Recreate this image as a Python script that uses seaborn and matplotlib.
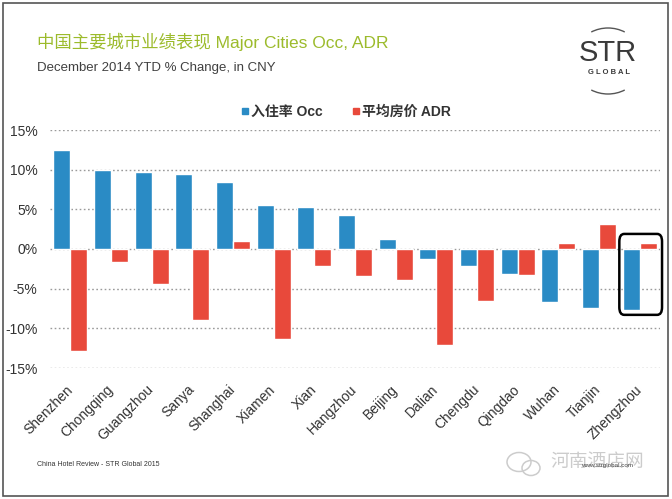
import matplotlib
matplotlib.use("Agg")
import matplotlib.pyplot as plt
import seaborn as sns
import pandas as pd
import numpy as np
from matplotlib.patches import FancyBboxPatch, Rectangle, Arc, Ellipse
from matplotlib.lines import Line2D

cities = ["Shenzhen", "Chongqing", "Guangzhou", "Sanya", "Shanghai", "Xiamen", "Xian",
          "Hangzhou", "Beijing", "Dalian", "Chengdu", "Qingdao", "Wuhan", "Tianjin", "Zhengzhou"]
occ = [12.5, 10.0, 9.7, 9.45, 8.5, 5.5, 5.3, 4.3, 1.3, -1.2, -2.2, -3.1, -6.7, -7.4, -7.7]
adr = [-12.8, -1.7, -4.4, -8.9, 1.0, -11.3, -2.1, -3.4, -3.9, -12.1, -6.5, -3.3, 0.8, 3.2, 0.7]
series_names = ["入住率 Occ", "平均房价 ADR"]
yticks = [-15, -10, -5, 0, 5, 10, 15]
ytick_labels = ["-15%", "-10%", "-5%", "0%", "5%", "10%", "15%"]
highlight_city = "Zhengzhou"

BLUE = "#2a8bc5"
RED = "#e8493b"
FONTS = ["Liberation Sans", "Noto Sans CJK SC", "DejaVu Sans"]

sns.set_theme(style="white")
plt.rcParams["font.family"] = FONTS

df = pd.DataFrame({
    "city": cities * 2,
    "value": occ + adr,
    "series": [series_names[0]] * len(cities) + [series_names[1]] * len(cities),
})

W, H = 672, 499
fig = plt.figure(figsize=(W / 100, H / 100), dpi=100)
fig.patch.set_facecolor("white")

def px(x0, y0, x1, y1):
    return [x0 / W, 1 - y1 / H, (x1 - x0) / W, (y1 - y0) / H]

ax = fig.add_axes(px(50, 130, 660, 368))
sns.barplot(data=df, x="city", y="value", hue="series", order=cities,
            hue_order=series_names, palette=[BLUE, RED], width=0.84, gap=0,
            saturation=1, ax=ax, legend=False, errorbar=None)

ax.set_ylim(-15, 15)
ax.set_xlim(-0.5, len(cities) - 0.5)
ax.set_yticks(yticks)
ax.set_yticklabels(ytick_labels)
for y in yticks:
    ax.axhline(y, color="#9a9a9a", lw=1.0, ls=(0, (1.2, 1.8)), zorder=0.5)
ax.set_axisbelow(True)
for s in ax.spines.values():
    s.set_visible(False)
ax.set_xlabel("")
ax.set_ylabel("")
ax.tick_params(axis="y", length=0, pad=9, labelsize=10, labelcolor="#333333")
ax.tick_params(axis="x", length=0, pad=14, labelsize=10, labelcolor="#333333")
for lab in ax.get_xticklabels():
    lab.set_rotation(45)
    lab.set_ha("right")
    lab.set_va("center")
    lab.set_rotation_mode("anchor")

# highlight box
hi = cities.index(highlight_city)
vals = [occ[hi], adr[hi]]
box = FancyBboxPatch((hi - 0.5, min(vals) - 0.6), 1.05, max(vals) - min(vals) + 0.6 + 1.2,
                     boxstyle="round,pad=0,rounding_size=0.12", mutation_aspect=8,
                     fill=False, ec="black", lw=1.8, zorder=5, clip_on=False)
ax.add_patch(box)

# legend
handles = [Line2D([], [], marker="s", ls="none", color=BLUE, markersize=5),
           Line2D([], [], marker="s", ls="none", color=RED, markersize=5)]
leg = fig.legend(handles, series_names, loc="center", bbox_to_anchor=(345 / W, 1 - 112 / H),
                 ncol=2, frameon=False, fontsize=10, handletextpad=0.05, columnspacing=2.0,
                 handlelength=0.8, labelcolor="#333333", prop={"weight": "bold", "size": 10})

# titles
fig.text(37 / W, 1 - 42 / H, "中国主要城市业绩表现 Major Cities Occ, ADR", fontsize=12.5,
         color="#9cbb2c", va="center", ha="left")
fig.text(37 / W, 1 - 68 / H, "December 2014 YTD % Change, in CNY", fontsize=9.5,
         color="#404040", va="center", ha="left")
fig.text(37 / W, 1 - 464 / H, "China Hotel Review - STR Global 2015", fontsize=5,
         color="#333333", va="center", ha="left")

# watermark
fig.text(597 / W, 1 - 462 / H, "河南酒店网", fontsize=13.5, color="#cccccc",
         va="center", ha="center")
fig.text(607 / W, 1 - 465 / H, "www.strglobal.com", fontsize=4.5, color="#444444",
         va="center", ha="center")

# wechat-like icon
iax = fig.add_axes(px(505, 445, 550, 490))
iax.set_xlim(505, 550)
iax.set_ylim(490, 445)
iax.axis("off")
iax.add_patch(Ellipse((519, 462), 24, 19, fill=False, ec="#cccccc", lw=1.1))
iax.add_patch(Ellipse((531, 468), 18, 15, fill=False, ec="#cccccc", lw=1.1, fc="white"))

# logo
lax = fig.add_axes(px(568, 25, 648, 95))
lax.set_xlim(568, 648)
lax.set_ylim(95, 25)
lax.axis("off")
lax.text(608, 53, "STR", fontsize=21, color="#3a3a3a", ha="center", va="center")
lax.text(609, 73, "G L O B A L", fontsize=5.5, color="#3a3a3a", ha="center", va="center",
         fontweight="bold")
lax.add_patch(Arc((608, 61), 70, 66, theta1=240, theta2=300, color="#555555", lw=1))
lax.add_patch(Arc((608, 61), 70, 66, theta1=60, theta2=120, color="#555555", lw=1))

# frame
fig.add_artist(Rectangle((3 / W, 3 / H), (W - 7) / W, (H - 6) / H, transform=fig.transFigure,
                         fill=False, ec="#555555", lw=1.2))

fig.savefig("out.png", dpi=100, facecolor="white")
